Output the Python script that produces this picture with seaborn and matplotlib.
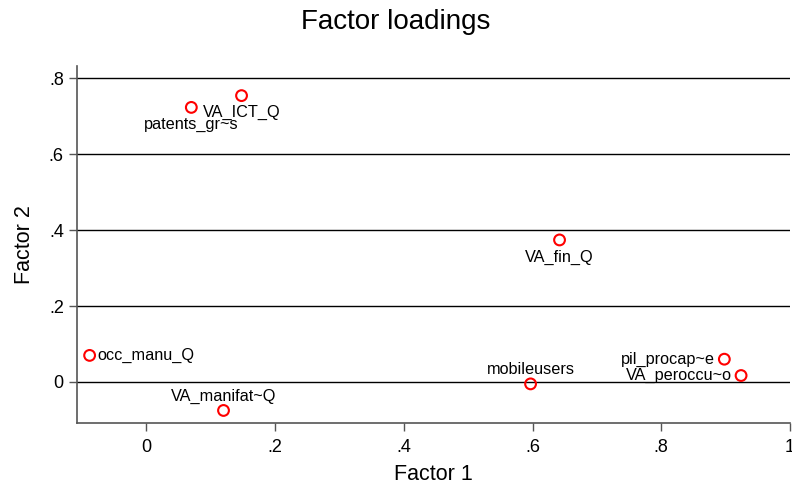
import matplotlib
matplotlib.use("Agg")
import matplotlib.pyplot as plt
import seaborn as sns
import pandas as pd

variables = ["patents_gr~s", "VA_ICT_Q", "VA_fin_Q", "occ_manu_Q", "mobileusers",
             "pil_procap~e", "VA_peroccu~o", "VA_manifat~Q"]
factor1 = [0.070, 0.148, 0.642, -0.088, 0.597, 0.898, 0.924, 0.120]
factor2 = [0.723, 0.754, 0.374, 0.070, -0.005, 0.060, 0.017, -0.075]
label_pos = ["below", "below", "below", "right", "above", "left", "left", "above"]

xticks = [0, 0.2, 0.4, 0.6, 0.8, 1.0]
xticklabels = ["0", ".2", ".4", ".6", ".8", "1"]
yticks = [0, 0.2, 0.4, 0.6, 0.8]
yticklabels = ["0", ".2", ".4", ".6", ".8"]

df = pd.DataFrame({"Factor 1": factor1, "Factor 2": factor2, "var": variables})

sns.set_theme(style="white")
plt.rcParams["font.family"] = ["Liberation Sans", "DejaVu Sans"]
plt.rcParams["text.color"] = "black"
plt.rcParams["axes.labelcolor"] = "black"

fig = plt.figure(figsize=(7.92, 4.86), dpi=100)
ax = fig.add_axes([77 / 792, 1 - 423 / 486, (790 - 77) / 792, (423 - 66) / 486])

for y in yticks:
    ax.axhline(y, color="black", lw=1.0, zorder=1)

sns.scatterplot(data=df, x="Factor 1", y="Factor 2", ax=ax, s=60,
                facecolor="none", edgecolor="#ff0000", linewidth=1.5, zorder=3)

offsets = {"below": (0, -17, "center", "center"),
           "above": (0, 14, "center", "center"),
           "right": (8, 0, "left", "center"),
           "left": (-9, 0, "right", "center")}
for xv, yv, name, pos in zip(factor1, factor2, variables, label_pos):
    dx, dy, ha, va = offsets[pos]
    ax.annotate(name, (xv, yv), xytext=(dx, dy), textcoords="offset pixels",
                ha=ha, va=va, fontsize=11.7, color="black", zorder=4)

ax.set_xlim(-0.1076, 1.0)
ax.set_ylim(-0.108, 0.832)
ax.set_xticks(xticks)
ax.set_xticklabels(xticklabels)
ax.set_yticks(yticks)
ax.set_yticklabels(yticklabels)
ax.tick_params(axis="x", direction="out", length=5.5, width=1, color="#555555",
               labelsize=13, labelcolor="black", bottom=True, pad=6)
ax.tick_params(axis="y", direction="out", length=5.5, width=1, color="#555555",
               labelsize=13, labelcolor="black", left=True, pad=4)

for side in ["top", "right"]:
    ax.spines[side].set_visible(False)
for side in ["left", "bottom"]:
    ax.spines[side].set_color("#555555")
    ax.spines[side].set_linewidth(1.2)

ax.set_xlabel("Factor 1", fontsize=15.5, labelpad=6)
ax.set_ylabel("Factor 2", fontsize=15.5, labelpad=10)
fig.suptitle("Factor loadings", fontsize=20, y=1 - 22 / 486, va="center")

fig.savefig("out.png", dpi=100)
